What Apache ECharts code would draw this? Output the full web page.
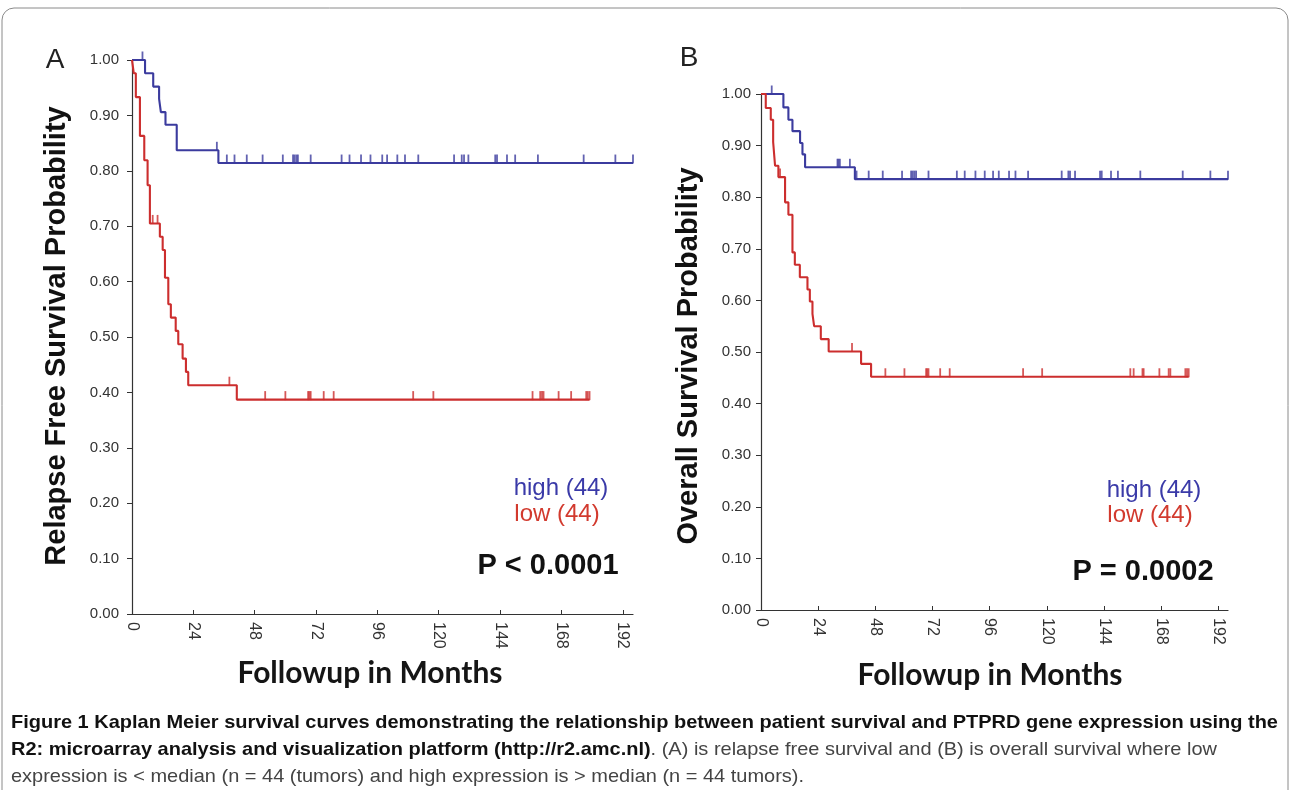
<!DOCTYPE html>
<html><head><meta charset="utf-8">
<script src="https://cdn.jsdelivr.net/npm/echarts@6/dist/echarts.min.js"></script>
<style>
html,body{margin:0;padding:0;background:#fff;}
#chart{position:absolute;left:0;top:0;width:1290px;height:790px;}
#cap{position:absolute;left:11px;top:708px;transform-origin:0 0;white-space:nowrap;font-family:"Liberation Sans",Arial,sans-serif;font-size:19px;line-height:27px;color:#444;}
#cap b{color:#111;}
</style>
</head><body>
<div id="chart"></div>
<div id="cap">
<div id="l1"><b>Figure 1 Kaplan Meier survival curves demonstrating the relationship between patient survival and PTPRD gene expression using the</b></div>
<div><b>R2: microarray analysis and visualization platform (http://r2.amc.nl)</b>. (A) is relapse free survival and (B) is overall survival where low</div>
<div>expression is &lt; median (n = 44 (tumors) and high expression is &gt; median (n = 44 tumors).</div>
</div>
<script>
// Panel A: relapse free survival
const aHighEventT = [5.1, 8.3, 10.6, 11.3, 13.1, 17.5, 33.8];
const aHighSurv   = [0.976, 0.952, 0.930, 0.906, 0.883, 0.837, 0.814];
const aHighCensT  = [4.1, 33.2, 37.1, 40.1, 44.9, 51.1, 59.0, 63.0, 63.6, 64.3, 64.9, 69.9, 82.0, 85.1, 89.6, 93.3, 97.9, 99.8, 103.8, 106.8, 112.0, 126.0, 129.0, 129.9, 131.6, 142.1, 142.8, 146.7, 149.9, 158.8, 176.7, 189.1, 196.0];
const aHighEnd = 196.0;
const aLowEventT = [0.7, 1.5, 3.1, 4.8, 6.1, 7.0, 10.9, 12.0, 12.9, 14.2, 15.2, 17.1, 18.1, 19.8, 21.1, 22.0, 41.0];
const aLowSurv   = [0.976, 0.933, 0.863, 0.819, 0.774, 0.705, 0.681, 0.657, 0.607, 0.559, 0.535, 0.511, 0.487, 0.461, 0.437, 0.413, 0.387];
const aLowCensT  = [8.1, 10.0, 38.1, 52.1, 60.0, 68.9, 69.4, 69.9, 75.0, 78.9, 110.0, 117.9, 156.7, 159.7, 160.4, 161.0, 166.9, 171.8, 177.7, 178.3, 179.0];
const aLowEnd = 179.0;
// Panel B: overall survival
const bHighEventT = [9.4, 11.5, 13.2, 16.4, 17.4, 18.5, 39.4];
const bHighSurv   = [0.974, 0.950, 0.928, 0.905, 0.883, 0.858, 0.835];
const bHighCensT  = [4.5, 32.1, 32.5, 33.1, 37.3, 40.1, 45.2, 51.1, 59.2, 63.0, 63.7, 64.4, 65.1, 70.3, 82.2, 85.5, 90.0, 93.9, 97.4, 99.8, 104.1, 106.8, 112.1, 126.2, 129.0, 129.7, 131.8, 142.3, 143.0, 146.9, 149.8, 159.2, 177.0, 188.6, 196.0];
const bHighEnd = 196.0;
const bLowEventT = [2.0, 4.1, 5.1, 5.9, 7.3, 10.1, 11.5, 13.2, 14.2, 16.3, 19.5, 20.5, 21.6, 22.3, 25.1, 28.4, 42.0, 46.2];
const bLowSurv   = [0.973, 0.950, 0.907, 0.861, 0.839, 0.790, 0.766, 0.693, 0.669, 0.645, 0.621, 0.598, 0.574, 0.550, 0.525, 0.501, 0.477, 0.452];
const bLowCensT  = [8.0, 38.2, 52.2, 60.2, 69.3, 69.8, 70.3, 75.2, 79.2, 110, 118, 155, 156.4, 160.1, 160.6, 167.2, 171.1, 171.8, 178.1, 178.8, 179.5];
const bLowEnd = 179.5;

const xMax = 196, xInterval = 24;
const yMin = 0, yMax = 1, yInterval = 0.1;

const BLUE = '#3b3b9e', RED = '#cc2e2e';

function stepData(ts, ss, end) {
  const d = [[0, 1]];
  for (let i = 0; i < ts.length; i++) d.push([ts[i], ss[i]]);
  d.push([end, ss[ss.length - 1]]);
  return d;
}
function survAt(ts, ss, t) {
  let s = 1;
  for (let i = 0; i < ts.length; i++) if (ts[i] <= t) s = ss[i];
  return s;
}
function censData(ts, ss, cs) { return cs.map(t => [t, survAt(ts, ss, t)]); }

const lineS = (name, gi, data, color) => ({
  name, type: 'line', step: 'end', xAxisIndex: gi, yAxisIndex: gi, data,
  showSymbol: false, symbol: 'none', lineStyle: { color, width: 2.1 }, silent: true, z: 3
});
const censS = (name, gi, data, color) => ({
  name, type: 'scatter', xAxisIndex: gi, yAxisIndex: gi, data,
  symbol: 'rect', symbolSize: [1.8, 9], symbolOffset: [0, -4],
  itemStyle: { color }, silent: true, z: 4
});

const axisLabelStyle = { color: '#333', fontFamily: 'Liberation Sans, Arial', fontSize: 15 };
const mkX = (gi) => ({
  type: 'value', gridIndex: gi, min: 0, max: xMax, interval: xInterval,
  axisLine: { show: true, lineStyle: { color: '#333', width: 1.2 } },
  axisTick: { show: true, inside: true, length: 4, lineStyle: { color: '#333' } },
  axisLabel: Object.assign({ rotate: -90, margin: 8, showMaxLabel: false }, axisLabelStyle, { fontSize: 16 }),
  splitLine: { show: false }
});
const mkY = (gi, margin) => ({
  type: 'value', gridIndex: gi, min: yMin, max: yMax, interval: yInterval,
  axisLine: { show: true, lineStyle: { color: '#333', width: 1.2 } },
  axisTick: { show: true, inside: false, length: 5, lineStyle: { color: '#333' } },
  axisLabel: Object.assign({ margin, formatter: v => v.toFixed(2) }, axisLabelStyle),
  splitLine: { show: false }
});

const txt = (x, y, text, font, fill, extra) => Object.assign({
  type: 'text', x, y, silent: true,
  style: { text, font, fill, textAlign: 'center', verticalAlign: 'middle' }
}, extra || {});

const chart = echarts.init(document.getElementById('chart'), null, { renderer: 'canvas' });
chart.setOption({
  animation: false,
  backgroundColor: '#fff',
  grid: [
    { left: 132, top: 60, width: 501, height: 554 },
    { left: 761, top: 94, width: 467, height: 516 }
  ],
  xAxis: [mkX(0), mkX(1)],
  yAxis: [mkY(0, 13), mkY(1, 10)],
  series: [
    lineS('A high', 0, stepData(aHighEventT, aHighSurv, aHighEnd), BLUE),
    lineS('A low', 0, stepData(aLowEventT, aLowSurv, aLowEnd), RED),
    censS('A high cens', 0, censData(aHighEventT, aHighSurv, aHighCensT), BLUE),
    censS('A low cens', 0, censData(aLowEventT, aLowSurv, aLowCensT), RED),
    lineS('B high', 1, stepData(bHighEventT, bHighSurv, bHighEnd), BLUE),
    lineS('B low', 1, stepData(bLowEventT, bLowSurv, bLowEnd), RED),
    censS('B high cens', 1, censData(bHighEventT, bHighSurv, bHighCensT), BLUE),
    censS('B low cens', 1, censData(bLowEventT, bLowSurv, bLowCensT), RED)
  ],
  graphic: [
    { type: 'rect', silent: true, shape: { x: 2, y: 8, width: 1286, height: 820, r: 12 },
      style: { fill: 'none', stroke: '#8a8a8a', lineWidth: 1 } },
    txt(55, 60, 'A', '28px Liberation Sans, Arial', '#222'),
    txt(689, 58, 'B', '28px Liberation Sans, Arial', '#222'),
    txt(57, 336, 'Relapse Free Survival Probability', 'bold 29px Liberation Sans, Arial', '#111', { rotation: Math.PI / 2 }),
    txt(689, 356, 'Overall Survival Probability', 'bold 29px Liberation Sans, Arial', '#111', { rotation: Math.PI / 2 }),
    txt(370, 673, 'Followup in Months', 'bold 30px Lato, Open Sans, sans-serif', '#151515'),
    txt(990, 675, 'Followup in Months', 'bold 30px Lato, Open Sans, sans-serif', '#151515'),
    txt(561, 488, 'high (44)', '24px Liberation Sans, Arial', '#3a3aa8'),
    txt(557, 514, 'low (44)', '24px Liberation Sans, Arial', '#d23a2e'),
    txt(1154, 490, 'high (44)', '24px Liberation Sans, Arial', '#3a3aa8'),
    txt(1150, 515, 'low (44)', '24px Liberation Sans, Arial', '#d23a2e'),
    txt(548, 566, 'P < 0.0001', 'bold 29px Liberation Sans, Arial', '#111'),
    txt(1143, 572, 'P = 0.0002', 'bold 29px Liberation Sans, Arial', '#111')
  ]
});

// fit caption width to the reference's text block (condensed type)
(function(){
  const cap = document.getElementById('cap');
  const l1 = document.getElementById('l1');
  const w = l1.getBoundingClientRect().width;
  const s = 1267 / w;
  cap.style.transform = 'scaleX(' + s.toFixed(4) + ')';
})();
</script>
</body></html>
